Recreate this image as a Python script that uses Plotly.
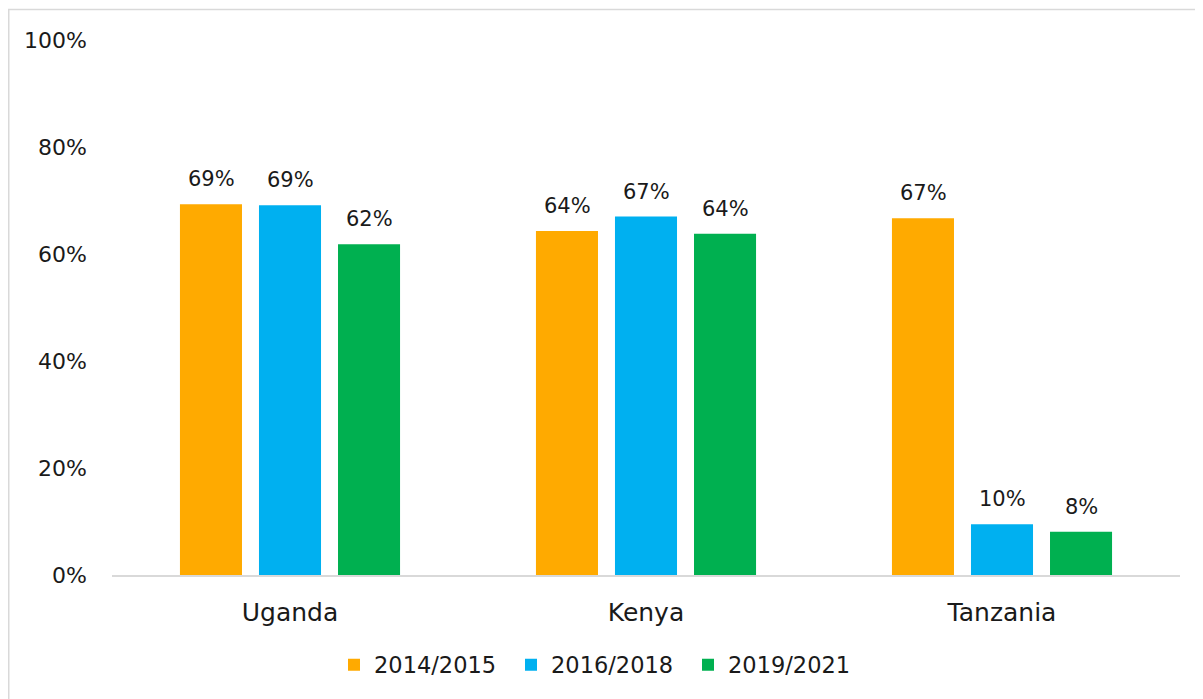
import plotly.graph_objects as go

countries = ["Uganda", "Kenya", "Tanzania"]
periods = ["2014/2015", "2016/2018", "2019/2021"]
v_2014_2015 = [0.693, 0.643, 0.667]
v_2016_2018 = [0.691, 0.670, 0.095]
v_2019_2021 = [0.618, 0.638, 0.081]
colors = ["#FFAA00", "#00B0F0", "#00B050"]
y_ticks = [0, 0.2, 0.4, 0.6, 0.8, 1.0]

FONT = "DejaVu Sans, sans-serif"
TXT = "#1a1a1a"

L, R, T, B = 104, 31, 32, 132
W, H = 1203, 699
PW, PH = W - L - R, H - T - B

fig = go.Figure()
series = [v_2014_2015, v_2016_2018, v_2019_2021]
for name, vals, c in zip(periods, series, colors):
    fig.add_trace(go.Bar(
        x=countries, y=vals, name=name, marker=dict(color=c, line=dict(width=0)),
    ))

# data labels above bars
slot = 79
for i, vals in enumerate(series):
    for cat, v in zip(countries, vals):
        fig.add_annotation(x=cat, y=v, xref="x", yref="y", text=f"{round(v*100):.0f}%",
                           showarrow=False, yanchor="bottom", yshift=11, xshift=(i - 1) * slot,
                           font=dict(family=FONT, size=21, color=TXT))

fig.update_layout(
    width=W, height=H,
    margin=dict(l=L, r=R, t=T, b=B),
    paper_bgcolor="white", plot_bgcolor="white",
    barmode="group", bargap=0.334, bargroupgap=0.215,
    font=dict(family=FONT, size=22, color=TXT),
    showlegend=True,
    legend=dict(orientation="h", x=(334 - 8 - L) / PW, xanchor="left", y=-90 / PH, yanchor="middle",
                font=dict(family=FONT, size=22.5, color=TXT),
                itemwidth=30, traceorder="normal", entrywidth=132, entrywidthmode="pixels"),
    xaxis=dict(showline=True, linecolor="#d9d9d9", linewidth=1.5, showgrid=False,
               ticks="", tickfont=dict(family=FONT, size=25, color=TXT), ticklabelstandoff=14),
    yaxis=dict(range=[0, 1], tickvals=y_ticks, tickformat=".0%", showgrid=False,
               showline=False, zeroline=False, ticks="", ticklabelstandoff=24,
               tickfont=dict(family=FONT, size=22, color=TXT)),
)
fig.add_shape(type="rect", xref="paper", yref="paper",
              x0=-(L - 0.75) / PW, x1=1.2, y0=-0.5, y1=(PH + T - 1.5) / PH,
              line=dict(color="#d9d9d9", width=1.5), fillcolor="rgba(0,0,0,0)", layer="below")

fig.write_html("out.html")
